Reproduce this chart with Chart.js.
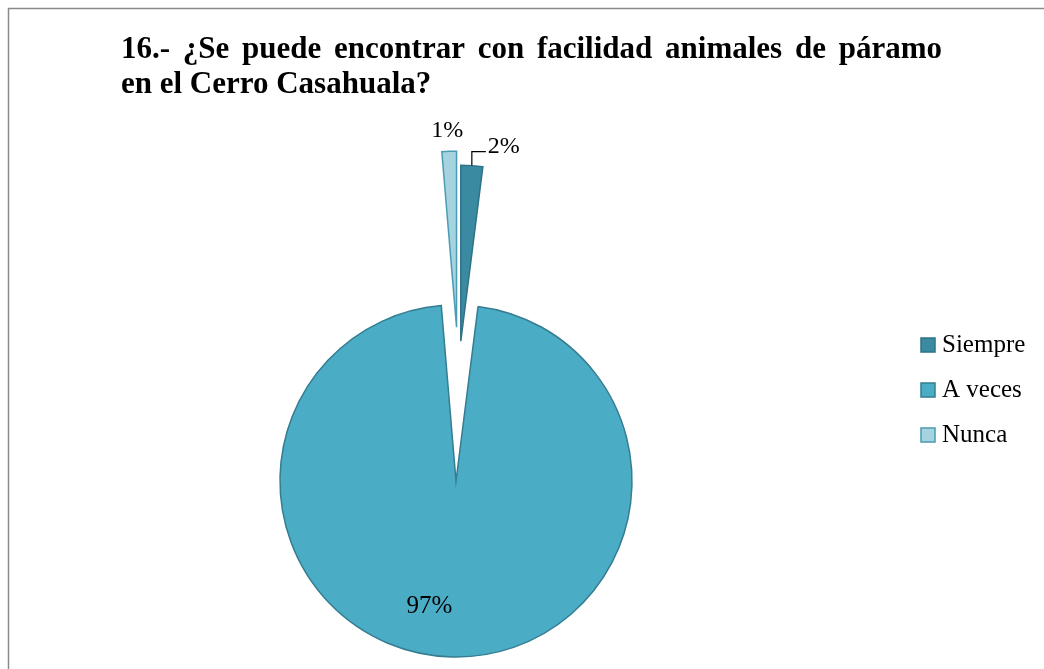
<!DOCTYPE html>
<html>
<head>
<meta charset="utf-8">
<script src="https://cdn.jsdelivr.net/npm/chart.js@4.4.1/dist/chart.umd.min.js"></script>
<style>
  body { margin: 0; background: #fff; }
  canvas { display: block; }
</style>
</head>
<body>
<canvas id="myChart" width="1044" height="669"></canvas>
<script>
const titleLines = ['16.- ¿Se puede encontrar con facilidad animales de páramo', 'en el Cerro Casahuala?'];
const labels = ['Siempre', 'A veces', 'Nunca'];
const values = [3, 145, 2];   // respondents, shown as rounded %

const fills = ['#3a8ba1', '#4bacc6', '#a6d3e0'];
const strokes = ['#2e7286', '#357d91', '#4a9cb2'];
const explode = [140, 0, 154];
const explodeNudgeX = [-4, 0, 7];
const serif = '"Liberation Serif", "Times New Roman", serif';

const total = values.reduce((a, b) => a + b, 0);
const pct = v => Math.round(v / total * 100) + '%';

// chart.js offset shrinks thin slices, so push the arcs out ourselves
const explodePlugin = {
    id: 'explode',
    afterUpdate(chart) {
        chart.getDatasetMeta(0).data.forEach((arc, i) => {
            const mid = (arc.startAngle + arc.endAngle) / 2;
            arc.x += Math.cos(mid) * explode[i] + explodeNudgeX[i];
            arc.y += Math.sin(mid) * explode[i];
        });
    }
};

const framePlugin = {
    id: 'frame',
    beforeDraw(chart) {
        const ctx = chart.ctx;
        ctx.save();
        ctx.fillStyle = '#fff';
        ctx.fillRect(0, 0, chart.width, chart.height);
        ctx.strokeStyle = '#8a8a8a';
        ctx.lineWidth = 1.5;
        ctx.beginPath();
        ctx.moveTo(8.5, chart.height + 2);
        ctx.lineTo(8.5, 8.5);
        ctx.lineTo(chart.width + 2, 8.5);
        ctx.stroke();

        ctx.fillStyle = '#000';
        ctx.font = 'bold 31px ' + serif;
        ctx.textBaseline = 'alphabetic';
        ctx.wordSpacing = '5px';
        ctx.fillText(titleLines[0], 121, 58);
        ctx.wordSpacing = '0px';
        ctx.fillText(titleLines[1], 121, 93);
        ctx.restore();
    }
};

const labelPlugin = {
    id: 'pctLabels',
    afterDatasetsDraw(chart) {
        const ctx = chart.ctx;
        const arcs = chart.getDatasetMeta(0).data;
        const outer = arc => {
            const mid = (arc.startAngle + arc.endAngle) / 2;
            return [arc.x + Math.cos(mid) * arc.outerRadius, arc.y + Math.sin(mid) * arc.outerRadius, mid];
        };
        ctx.save();
        ctx.fillStyle = '#000';
        ctx.strokeStyle = '#000';
        ctx.textBaseline = 'alphabetic';
        ctx.font = '24px ' + serif;

        // Siempre: outside with leader line
        let [ox, oy] = outer(arcs[0]);
        ctx.lineWidth = 1.2;
        ctx.beginPath();
        ctx.moveTo(ox, oy);
        ctx.lineTo(ox, oy - 14);
        ctx.lineTo(ox + 14, oy - 14);
        ctx.stroke();
        ctx.textAlign = 'left';
        ctx.fillText(pct(values[0]), ox + 16, oy - 13);

        // Nunca: outside end
        [ox, oy] = outer(arcs[2]);
        ctx.textAlign = 'center';
        ctx.fillText(pct(values[2]), ox - 2, oy - 14);

        // A veces: inside
        const a = arcs[1];
        const mid = (a.startAngle + a.endAngle) / 2;
        ctx.font = '25px ' + serif;
        ctx.fillText(pct(values[1]), a.x + Math.cos(mid) * a.outerRadius * 0.72 - 24, a.y + Math.sin(mid) * a.outerRadius * 0.72 + 5);

        // legend
        ctx.textAlign = 'left';
        labels.forEach((name, i) => {
            const y = 345 + i * 45;
            ctx.fillStyle = fills[i];
            ctx.fillRect(921, y - 7, 14, 14);
            ctx.strokeStyle = strokes[i];
            ctx.lineWidth = 1.5;
            ctx.strokeRect(921, y - 7, 14, 14);
            ctx.fillStyle = '#000';
            ctx.fillText(name, 942, y + 7);
        });
        ctx.restore();
    }
};

new Chart(document.getElementById('myChart'), {
    type: 'pie',
    data: {
        labels: labels,
        datasets: [{
            data: values,
            backgroundColor: fills,
            borderColor: strokes,
            borderWidth: 1.5,
            borderJoinStyle: 'miter',
            clip: false
        }]
    },
    options: {
        responsive: false,
        animation: false,
        radius: 176,
        layout: {padding: {left: 0, right: 132, top: 293, bottom: 0}},
        plugins: {
            legend: {display: false},
            tooltip: {enabled: false},
            title: {display: false}
        }
    },
    plugins: [explodePlugin, framePlugin, labelPlugin]
});
</script>
</body>
</html>
